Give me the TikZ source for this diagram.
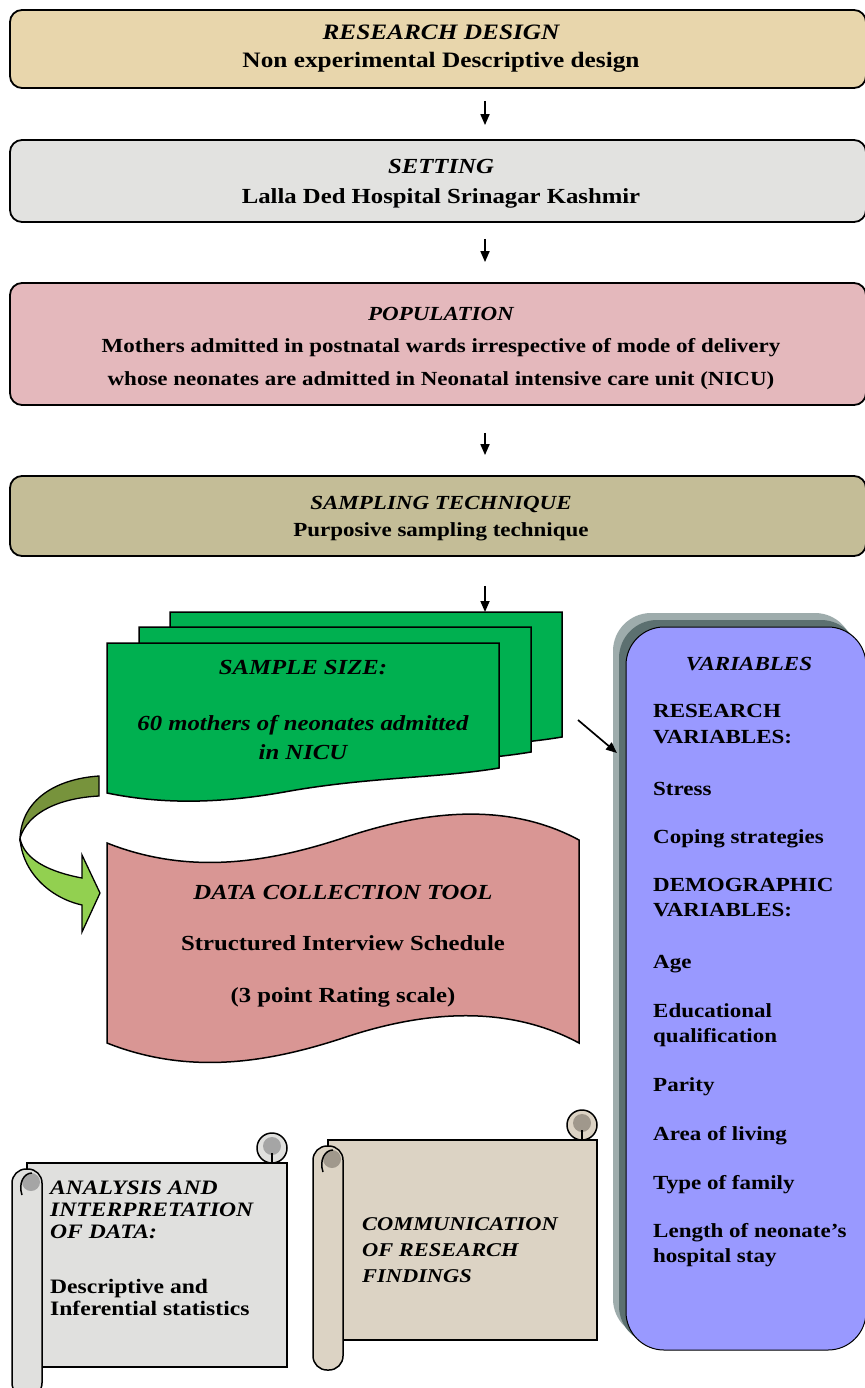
\documentclass[tikz,border=0pt]{standalone}
\usepackage{fontspec}
\setmainfont{Liberation Serif}[FakeStretch=1.15]
\usetikzlibrary{arrows.meta}
\definecolor{rdcol}{RGB}{232,214,172}
\definecolor{setcol}{RGB}{226,226,224}
\definecolor{popcol}{RGB}{228,184,188}
\definecolor{sampcol}{RGB}{196,189,151}
\definecolor{pagecol}{RGB}{0,176,80}
\definecolor{toolcol}{RGB}{217,150,148}
\definecolor{varcol}{RGB}{153,153,255}
\definecolor{shadlight}{RGB}{158,172,172}
\definecolor{shaddark}{RGB}{92,112,112}
\definecolor{olivecol}{RGB}{119,147,60}
\definecolor{lgreencol}{RGB}{146,208,80}
\definecolor{scrollA}{RGB}{224,224,222}
\definecolor{scrollAin}{RGB}{165,165,165}
\definecolor{scrollB}{RGB}{220,211,196}
\definecolor{scrollBin}{RGB}{160,152,140}
\newcommand\fsz[1]{\fontsize{#1}{#1}\selectfont}
\newcommand\greenpg[2]{\draw[edge, fill=pagecol] (107+#1,643+#2) -- (499+#1,643+#2) -- (499+#1,768+#2) .. controls (440+#1,778+#2) and (370+#1,777+#2) .. (290+#1,791+#2) .. controls (230+#1,802+#2) and (170+#1,806+#2) .. (107+#1,793+#2) -- cycle;}
% L T R B fill inner
\newcommand\myscroll[6]{%
  \draw[edge, fill=#5] (#3-15,#2+15) circle[radius=15];
  \fill[#6] (#3-15,#2+13) circle[radius=9];
  \draw[edge, fill=#5] (#1+15,#2+30) rectangle (#3,#4-30);
  \draw[edge] (#3-15,#2+20) -- (#3-15,#2+30);
  \draw[edge, fill=#5, rounded corners=14pt] (#1,#2+36) rectangle (#1+30,#4);
  \fill[#6] (#1+19,#2+49) circle[radius=9];
  \draw[edge] (#1+10,#2+62) .. controls (#1+6,#2+50) and (#1+12,#2+40) .. (#1+20,#2+40);
}
\tikzset{
  flowbox/.style={draw=black, line width=1.8pt, rounded corners=12pt, inner sep=0pt},
  lbl/.style={anchor=base, inner sep=0pt, font=\bfseries},
  lblw/.style={anchor=base west, inner sep=0pt, font=\bfseries},
  arr/.style={line width=1.7pt, -{Triangle[length=11pt,width=9pt]}},
  edge/.style={draw=black, line width=1.5pt},
}
\begin{document}
\begin{tikzpicture}[x=1pt,y=-1pt]
\useasboundingbox (0,0) rectangle (864,1388);

% ---- top boxes
\node[flowbox, fill=rdcol, minimum width=856pt, minimum height=78pt] (b1) at (438,49) {};
\node[lbl] (t1a) at (441,40) {\fsz{22}\itshape RESEARCH DESIGN};
\node[lbl] (t1b) at (441,68) {\fsz{22}Non experimental Descriptive design};

\node[flowbox, fill=setcol, minimum width=856pt, minimum height=82pt] (b2) at (438,181) {};
\node[lbl] (t2a) at (441,174) {\fsz{21.5}\itshape SETTING};
\node[lbl] (t2b) at (441,204) {\fsz{21.5}Lalla Ded Hospital Srinagar Kashmir};

\node[flowbox, fill=popcol, minimum width=856pt, minimum height=122pt] (b3) at (438,344) {};
\node[lbl] (t3a) at (441,320) {\fsz{20}\itshape POPULATION};
\node[lbl] (t3b) at (441,352) {\fsz{20}Mothers admitted in postnatal wards irrespective of mode of delivery};
\node[lbl] (t3c) at (441,385) {\fsz{20}whose neonates are admitted in Neonatal intensive care unit (NICU)};

\node[flowbox, fill=sampcol, minimum width=856pt, minimum height=80pt] (b4) at (438,516) {};
\node[lbl] (t4a) at (441,509) {\fsz{20}\itshape SAMPLING TECHNIQUE};
\node[lbl] (t4b) at (441,536) {\fsz{20}Purposive sampling technique};

\draw[arr, shorten <=12pt, shorten >=14pt] ([xshift=47pt]b1.south) -- ([xshift=47pt]b2.north);
\draw[arr, shorten <=16pt, shorten >=20pt] ([xshift=47pt]b2.south) -- ([xshift=47pt]b3.north);
\draw[arr, shorten <=27pt, shorten >=20pt] ([xshift=47pt]b3.south) -- ([xshift=47pt]b4.north);

% ---- green pages
\greenpg{63}{-31}
\greenpg{32}{-16}
\greenpg{0}{0}
\coordinate (pgtop) at (485,612);
\draw[arr, shorten <=29pt] ([xshift=47pt]b4.south) -- (pgtop);
\node[lbl] (s1) at (303,674) {\fsz{21.5}\itshape SAMPLE SIZE:};
\node[lbl] (s2) at (303,730) {\fsz{21.5}\itshape 60 mothers of neonates admitted};
\node[lbl] (s3) at (303,759) {\fsz{21.5}\itshape in NICU};

% ---- curved green arrow
\draw[line width=1.3pt, fill=olivecol] (99,776) .. controls (55,779) and (22,800) .. (20,838) .. controls (28,812) and (60,798) .. (99,796) -- cycle;
\draw[line width=1.3pt, fill=lgreencol] (20,838) .. controls (22,872) and (50,898) .. (82,905) -- (82,932) -- (100,893) -- (82,855) -- (82,878) .. controls (50,872) and (24,860) .. (20,838) -- cycle;

% ---- data collection wave
\draw[edge, fill=toolcol] (107,843) .. controls (190,876) and (270,862) .. (343,838) .. controls (420,812) and (505,800) .. (579,840) -- (579,1043) .. controls (505,1003) and (420,1012) .. (343,1038) .. controls (270,1062) and (190,1076) .. (107,1043) -- cycle;
\node[lbl] (d1) at (343,899) {\fsz{21.5}\itshape DATA COLLECTION TOOL};
\node[lbl] (d2) at (343,950) {\fsz{21.5}Structured Interview Schedule};
\node[lbl] (d3) at (343,1002) {\fsz{21.5}(3 point Rating scale)};

% ---- variables
\fill[shadlight, rounded corners=38pt] (613,613) rectangle (853,1337);
\fill[shaddark, rounded corners=38pt] (619,620) rectangle (859,1344);
\node[draw=black, line width=1pt, fill=varcol, rounded corners=38pt, minimum width=240pt, minimum height=723pt, inner sep=0pt] (vars) at (746,988.5) {};
\node[lbl] (v0) at (749,670) {\fsz{20}\itshape VARIABLES};
\node[lblw] (v1) at (653,717) {\fsz{20}RESEARCH};
\node[lblw] (v2) at (653,743) {\fsz{20}VARIABLES:};
\node[lblw] (v3) at (653,795) {\fsz{20}Stress};
\node[lblw] (v4) at (653,843) {\fsz{20}Coping strategies};
\node[lblw] (v5) at (653,891) {\fsz{20}DEMOGRAPHIC};
\node[lblw] (v6) at (653,916) {\fsz{20}VARIABLES:};
\node[lblw] (v7) at (653,968) {\fsz{20}Age};
\node[lblw] (v8) at (653,1017) {\fsz{20}Educational};
\node[lblw] (v9) at (653,1042) {\fsz{20}qualification};
\node[lblw] (v10) at (653,1091) {\fsz{20}Parity};
\node[lblw] (v11) at (653,1140) {\fsz{20}Area of living};
\node[lblw] (v12) at (653,1189) {\fsz{20}Type of family};
\node[lblw] (v13) at (653,1237) {\fsz{20}Length of neonate’s};
\node[lblw] (v14) at (653,1262) {\fsz{20}hospital stay};
\coordinate (vtail) at (578,720);
\coordinate (vtip) at (617,753);
\draw[arr] (vtail) -- (vtip);

% ---- scrolls
\myscroll{12}{1133}{287}{1397}{scrollA}{scrollAin}
\node[lblw] (a1) at (50,1194) {\fsz{20.5}\itshape ANALYSIS AND};
\node[lblw] (a2) at (50,1216) {\fsz{20.5}\itshape INTERPRETATION};
\node[lblw] (a3) at (50,1238) {\fsz{20.5}\itshape OF DATA:};
\node[lblw] (a4) at (50,1293) {\fsz{20.5}Descriptive and};
\node[lblw] (a5) at (50,1315) {\fsz{20.5}Inferential statistics};

\myscroll{313}{1110}{597}{1370}{scrollB}{scrollBin}
\node[lblw] (c1) at (362,1230) {\fsz{19.5}\itshape COMMUNICATION};
\node[lblw] (c2) at (362,1256) {\fsz{19.5}\itshape OF RESEARCH};
\node[lblw] (c3) at (362,1282) {\fsz{19.5}\itshape FINDINGS};
\end{tikzpicture}
\end{document}
